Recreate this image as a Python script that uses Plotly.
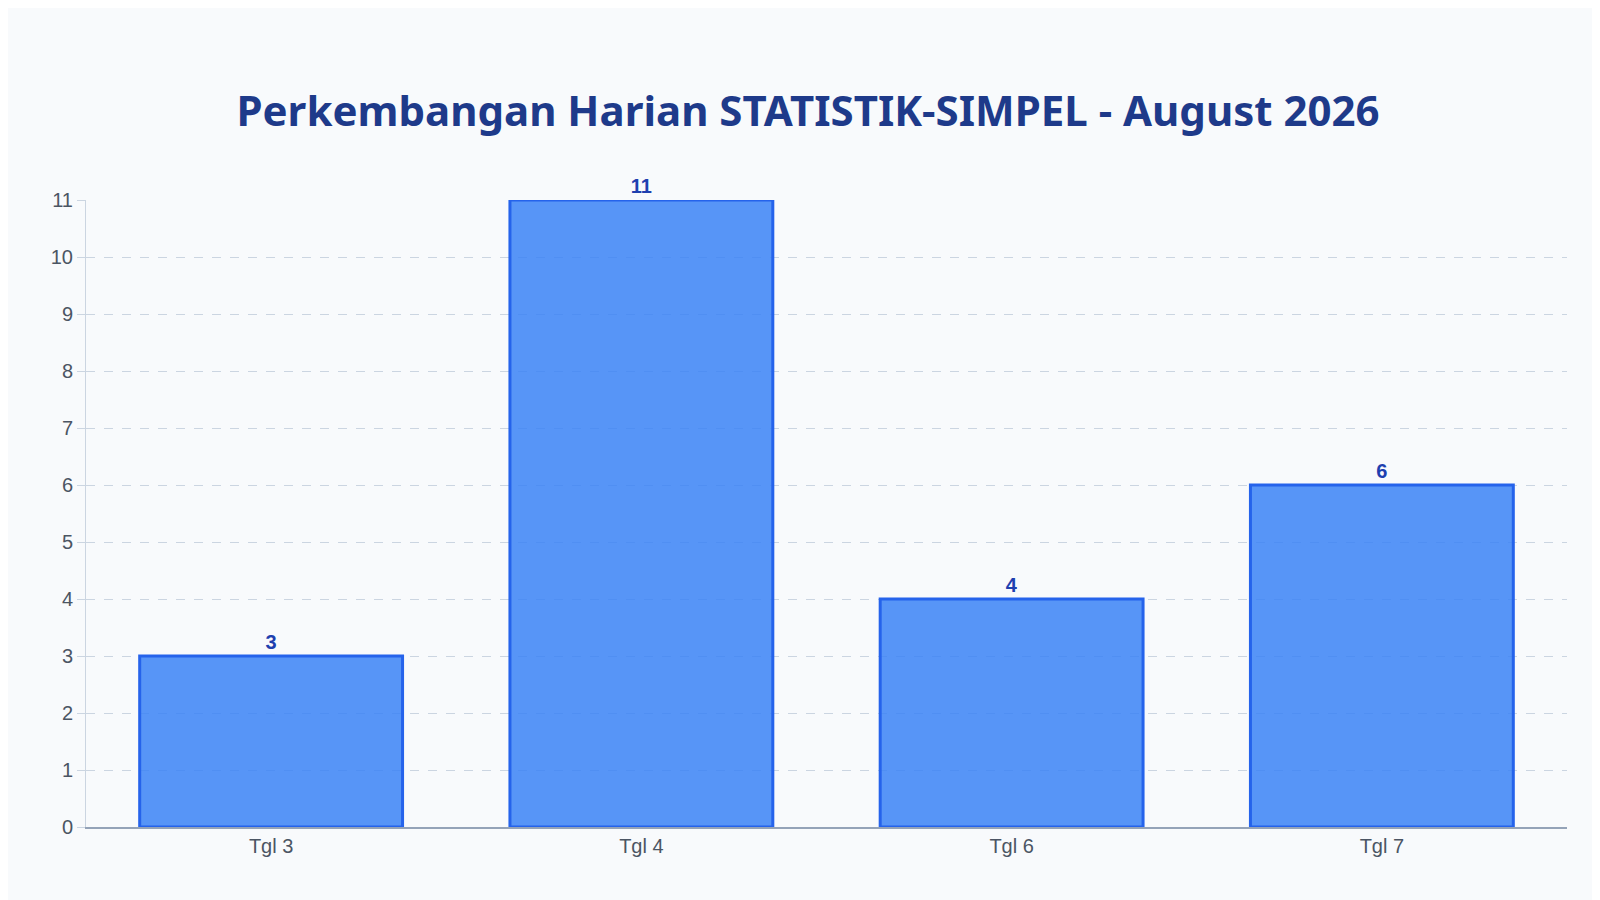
import plotly.graph_objects as go

categories = ["Tgl 3", "Tgl 4", "Tgl 6", "Tgl 7"]
values = [3, 11, 4, 6]
title_text = "Perkembangan Harian STATISTIK-SIMPEL - August 2026"

fig = go.Figure(go.Bar(
    x=categories, y=values, width=0.71,
    marker=dict(color="rgba(59,130,246,0.85)", line=dict(color="#2563EB", width=3)),
    text=values, textposition="outside", cliponaxis=False,
    textfont=dict(family="Liberation Sans, Arial", size=20, color="#1E40AF", weight="bold"),
))
fig.update_layout(
    width=1600, height=900,
    paper_bgcolor="#F8FAFC", plot_bgcolor="#F8FAFC",
    margin=dict(l=78, r=41, t=192, b=81),
    title=dict(text=title_text, x=0.5, xanchor="center", y=0.885, yanchor="middle",
               font=dict(family="Noto Sans", size=42, color="#1E3A8A", weight="bold")),
    showlegend=False, bargap=0.29,
)
fig.update_yaxes(range=[0, 11], dtick=1, showgrid=True, gridcolor="#CBD5E1", griddash="dash",
                 gridwidth=1, showline=True, linecolor="#CBD5E1", ticks="outside", ticklen=8,
                 tickcolor="#CBD5E1", zeroline=False,
                 tickfont=dict(family="Liberation Sans, Arial", size=20, color="#4B5563"))
fig.update_xaxes(showline=True, linecolor="#94A3B8", linewidth=1.5,
                 tickfont=dict(family="Liberation Sans, Arial", size=20, color="#4B5563"))
fig.write_html("out.html")
